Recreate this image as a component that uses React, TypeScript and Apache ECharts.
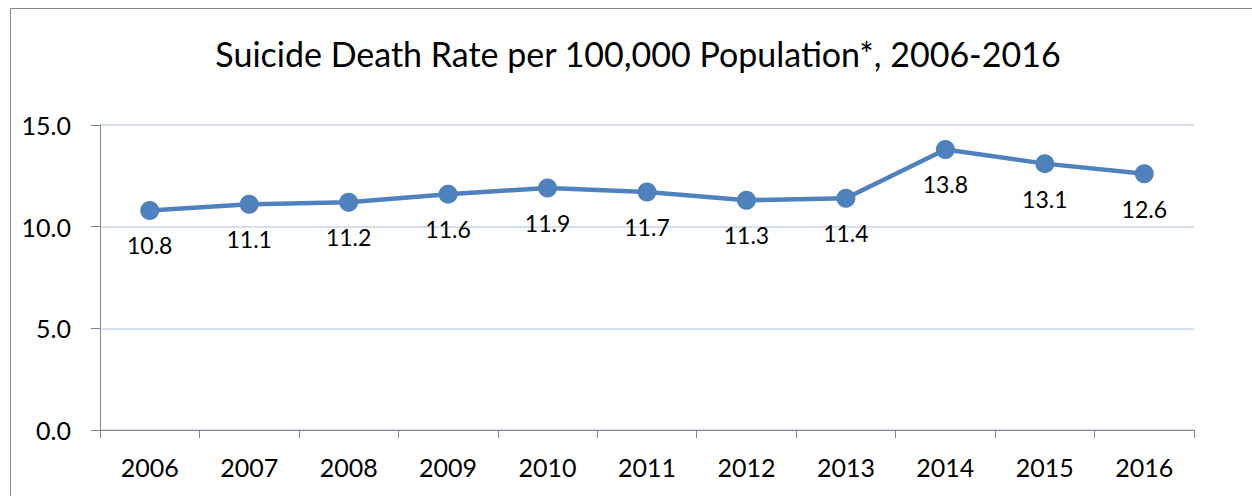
import React, { useEffect, useRef } from "react";
import * as echarts from "echarts";

const years = ["2006", "2007", "2008", "2009", "2010", "2011", "2012", "2013", "2014", "2015", "2016"];
const rates = [10.8, 11.1, 11.2, 11.6, 11.9, 11.7, 11.3, 11.4, 13.8, 13.1, 12.6];
const titleText = "Suicide Death Rate per 100,000 Population*, 2006-2016";

const FONT = "Lato, 'Open Sans', sans-serif";

export default function App() {
  const ref = useRef<HTMLDivElement>(null);
  useEffect(() => {
    if (!ref.current) return;
    const chart = echarts.init(ref.current, undefined, { renderer: "svg" });
    chart.setOption({
      animation: false,
      backgroundColor: "#ffffff",
      title: {
        text: titleText,
        left: 633,
        textAlign: "center",
        top: 31,
        textStyle: { fontFamily: FONT, fontSize: 34, fontWeight: "normal", color: "#000" },
      },
      graphic: [
        {
          type: "rect",
          shape: { x: 10.5, y: 8.5, width: 1400, height: 700 },
          style: { fill: "none", stroke: "#868686", lineWidth: 1 },
          silent: true,
        },
      ],
      grid: { left: 100, right: 58, top: 125, bottom: 66 },
      xAxis: {
        type: "category",
        data: years,
        boundaryGap: true,
        axisLine: { lineStyle: { color: "#868686", width: 1 } },
        axisTick: { show: true, length: 8, alignWithLabel: false, lineStyle: { color: "#868686" } },
        axisLabel: { fontFamily: FONT, fontSize: 25, color: "#000", margin: 24 },
        splitLine: { show: false },
      },
      yAxis: {
        type: "value",
        min: 0,
        max: 15,
        interval: 5,
        axisLine: { show: true, lineStyle: { color: "#868686", width: 1 } },
        axisTick: { show: true, length: 9, lineStyle: { color: "#868686" } },
        axisLabel: {
          fontFamily: FONT,
          fontSize: 25,
          color: "#000",
          margin: 29,
          formatter: (v: number) => v.toFixed(1),
        },
        splitLine: { show: true, lineStyle: { color: "#c6d5ea", width: 1.5 } },
      },
      series: [
        {
          type: "line",
          data: rates,
          symbol: "circle",
          symbolSize: 19,
          itemStyle: { color: "#4f81bd" },
          lineStyle: { color: "#4f81bd", width: 4.5 },
          label: {
            show: true,
            position: "bottom",
            distance: 14,
            fontFamily: FONT,
            fontSize: 23,
            color: "#000",
            formatter: (p: any) => Number(p.value).toFixed(1),
          },
        },
      ],
    });
    return () => chart.dispose();
  }, []);
  return (
    <div
      ref={ref}
      style={{ position: "fixed", left: 0, top: 0, width: 1252, height: 496 }}
    />
  );
}
